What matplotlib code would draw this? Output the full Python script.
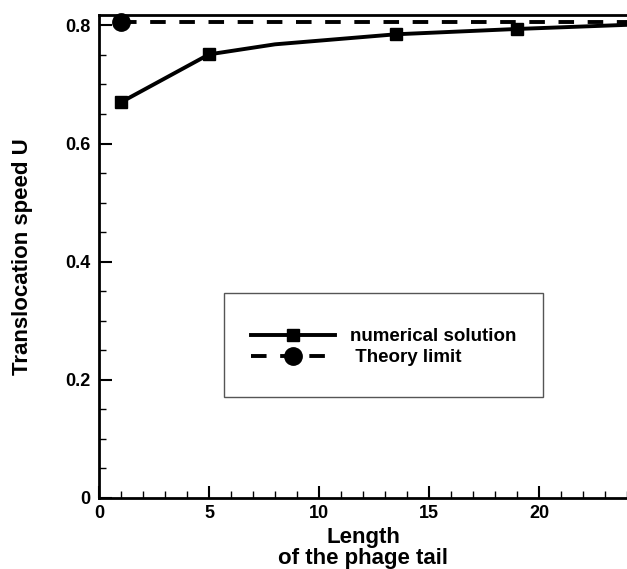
import matplotlib
matplotlib.use("Agg")
import matplotlib.pyplot as plt
from matplotlib.patches import Rectangle
from matplotlib.ticker import MultipleLocator, FuncFormatter

# data
tail_length = [1, 5, 8, 13.5, 19, 24]
speed_num = [0.670, 0.751, 0.768, 0.785, 0.794, 0.801]
marker_idx = [0, 1, 3, 4]
theory_x = [1, 24]
theory_limit = 0.806

plt.rcParams['font.family'] = ['Liberation Sans', 'DejaVu Sans']
plt.rcParams['font.weight'] = 'bold'

fig = plt.figure(figsize=(6.27, 5.69), dpi=100)
ax = fig.add_axes([0.158, 0.125, 0.842, 0.849])

ax.plot(tail_length, speed_num, color='black', lw=2.8, marker='s', ms=9,
        markevery=marker_idx, label='numerical solution', clip_on=False, zorder=3)
ax.plot(theory_x, [theory_limit] * 2, color='black', lw=2.8, ls=(0, (4, 3.5)),
        marker='o', ms=12.5, markevery=[0], label=' Theory limit', clip_on=False, zorder=3)

ax.set_xlim(0, 24)
ax.set_ylim(0, 0.818)
ax.xaxis.set_major_locator(MultipleLocator(5))
ax.xaxis.set_minor_locator(MultipleLocator(1))
ax.yaxis.set_major_locator(MultipleLocator(0.2))
ax.yaxis.set_minor_locator(MultipleLocator(0.05))
ax.yaxis.set_major_formatter(FuncFormatter(lambda v, p: f'{v:g}'))
ax.xaxis.set_major_formatter(FuncFormatter(lambda v, p: f'{v:g}'))
ax.tick_params(which='both', direction='in', width=1.5, labelsize=13)
ax.tick_params(which='major', length=9)
ax.tick_params(which='minor', length=5, width=1)
ax.tick_params(axis='x', pad=5)
ax.tick_params(axis='y', pad=6)
for s in ['left', 'bottom', 'top']:
    ax.spines[s].set_linewidth(2)
ax.spines['right'].set_visible(False)

ax.set_xlabel('Length\nof the phage tail', fontsize=16, fontweight='bold', linespacing=1.0)
ax.set_ylabel('Translocation speed U', fontsize=16, fontweight='bold')
ax.xaxis.set_label_coords(0.5, -0.06)
ax.yaxis.set_label_coords(-0.125, 0.5)

# legend box
ax.add_patch(Rectangle((0.237, 0.209), 0.604, 0.215, transform=ax.transAxes,
                       fill=False, edgecolor='#555555', lw=1))
ax.legend(loc='center', bbox_to_anchor=(0.539, 0.312), frameon=False,
          handlelength=4.5, handletextpad=0.8, labelspacing=0.2,
          prop={'weight': 'bold', 'size': 13.5})

fig.savefig('out.png', dpi=100)
